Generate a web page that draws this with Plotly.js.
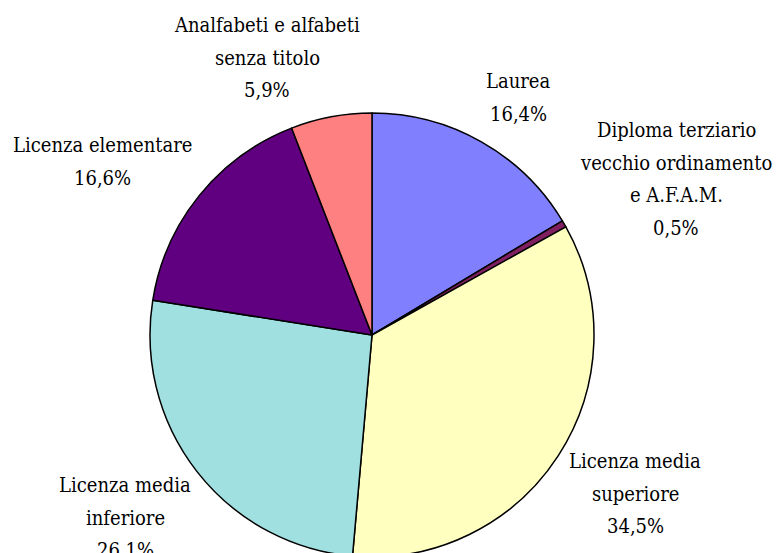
<!DOCTYPE html>
<html>
<head>
<meta charset="utf-8">
<script src="https://cdn.plot.ly/plotly-3.0.1.min.js"></script>
<style>
html,body{margin:0;padding:0;overflow:hidden;background:#fff;}
#chart{width:776px;height:560px;}
</style>
</head>
<body>
<div id="chart"></div>
<script>
// Data (clockwise from 12 o'clock)
var categories = [
  "Laurea",
  "Diploma terziario vecchio ordinamento e A.F.A.M.",
  "Licenza media superiore",
  "Licenza media inferiore",
  "Licenza elementare",
  "Analfabeti e alfabeti senza titolo"
];
var values = [16.4, 0.5, 34.5, 26.1, 16.6, 5.9];
var labelLines = [
  ["Laurea"],
  ["Diploma terziario", "vecchio ordinamento", "e A.F.A.M."],
  ["Licenza media", "superiore"],
  ["Licenza media", "inferiore"],
  ["Licenza elementare"],
  ["Analfabeti e alfabeti", "senza titolo"]
];
var colors = ["#8080FF", "#802060", "#FFFFC0", "#A0E0E0", "#600080", "#FF8080"];

// Layout helpers (pixel positions of label blocks: centre x, first line centre y)
var W = 776, H = 560;
var labelPos = [
  [518, 81],
  [676, 130],
  [635, 461],
  [125, 485],
  [102, 145],
  [267, 25]
];
var lineGap = 32.7;
var fontSpec = {family: "DejaVu Serif Condensed, DejaVu Serif", size: 20, color: "#000"};

function pct(v) { return v.toFixed(1).replace(".", ",") + "%"; }

var annotations = [];
for (var i = 0; i < categories.length; i++) {
  var lines = labelLines[i].concat([pct(values[i])]);
  for (var j = 0; j < lines.length; j++) {
    var px = labelPos[i][0], py = labelPos[i][1] + j * lineGap;
    annotations.push({
      text: lines[j], xref: "paper", yref: "paper",
      x: px / W, y: (H - py) / H, xanchor: "center", yanchor: "middle",
      showarrow: false, font: fontSpec
    });
  }
}

var cx = 372, cy = 335, r = 222;
var trace = {
  type: "pie",
  labels: categories,
  values: values,
  sort: false,
  direction: "clockwise",
  rotation: 0,
  textinfo: "none",
  hoverinfo: "label+percent",
  marker: {colors: colors, line: {color: "#000", width: 1.5}},
  domain: {x: [(cx - r) / W, (cx + r) / W], y: [(H - cy - r) / H, (H - cy + r) / H]},
  showlegend: false
};

var layout = {
  width: W, height: H,
  margin: {l: 0, r: 0, t: 0, b: 0},
  paper_bgcolor: "#fff",
  font: {family: "DejaVu Serif Condensed, DejaVu Serif"},
  showlegend: false,
  annotations: annotations
};

Plotly.newPlot("chart", [trace], layout, {displayModeBar: false, staticPlot: true});
</script>
</body>
</html>
